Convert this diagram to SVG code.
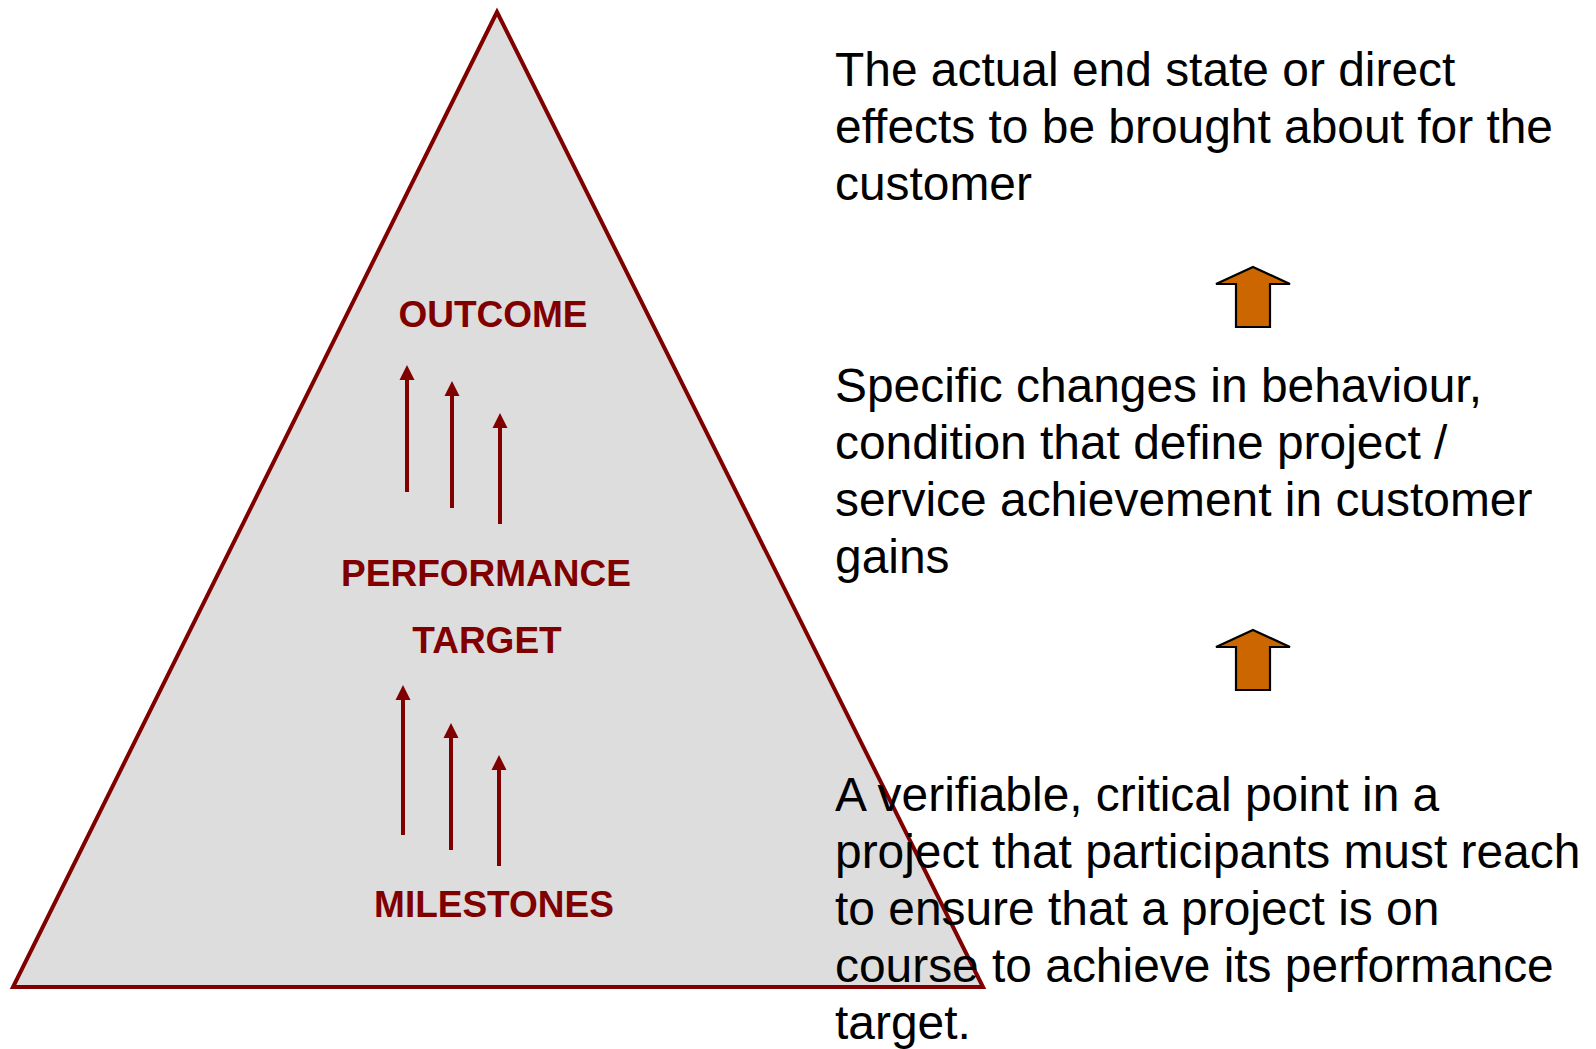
<svg xmlns="http://www.w3.org/2000/svg" width="1596" height="1049" viewBox="0 0 1596 1049">
  <style>
    .tri { fill: #DDDDDD; stroke: #800000; stroke-width: 4; stroke-linejoin: miter; }
    .lbl { font-family: "Liberation Sans", Arial, sans-serif; font-weight: bold; font-size: 37px; fill: #800000; text-anchor: middle; }
    .desc { font-family: "Liberation Sans", Arial, sans-serif; font-size: 47.9px; fill: #000000; }
    .up { stroke: #800000; stroke-width: 4; fill: none; marker-end: url(#head); }
    .block { fill: #CC6600; stroke: #000000; stroke-width: 2.2; stroke-linejoin: miter; }
  </style>
  <defs>
    <marker id="head" markerUnits="userSpaceOnUse" markerWidth="16" markerHeight="16" viewBox="0 0 16 16" refX="1" refY="8" orient="auto">
      <path d="M0,0.5 L15,8 L0,15.5 Z" fill="#800000"/>
    </marker>
  </defs>

  <rect width="1596" height="1049" fill="#FFFFFF"/>

  <!-- pyramid -->
  <g id="pyramid">
    <polygon class="tri" points="497,12 13,987 983,987"/>
  </g>

  <g id="outcome">
    <text class="lbl" x="493" y="327">OUTCOME</text>
  </g>
  <g id="performance-target">
    <text class="lbl" x="486" y="586">PERFORMANCE</text>
    <text class="lbl" x="487" y="653">TARGET</text>
  </g>
  <g id="milestones">
    <text class="lbl" x="494" y="917">MILESTONES</text>
  </g>

  <!-- upward connectors between the levels -->
  <g id="connectors">
    <line class="up" x1="407" y1="492" x2="407" y2="379"/>
    <line class="up" x1="452" y1="508" x2="452" y2="395"/>
    <line class="up" x1="500" y1="524" x2="500" y2="427"/>
    <line class="up" x1="403" y1="835" x2="403" y2="699"/>
    <line class="up" x1="451" y1="850" x2="451" y2="737"/>
    <line class="up" x1="499" y1="866" x2="499" y2="769"/>
    <polygon class="block" points="1253,267 1290,284 1270,284 1270,327 1236,327 1236,284 1216,284"/>
    <polygon class="block" points="1253,630 1290,647 1270,647 1270,690 1236,690 1236,647 1216,647"/>
  </g>

  <!-- descriptions -->
  <g id="desc-outcome">
    <text class="desc" x="835" y="86">The actual end state or direct</text>
    <text class="desc" x="835" y="143">effects to be brought about for the</text>
    <text class="desc" x="835" y="200">customer</text>
  </g>
  <g id="desc-performance">
    <text class="desc" x="835" y="402">Specific changes in behaviour,</text>
    <text class="desc" x="835" y="459">condition that define project /</text>
    <text class="desc" x="835" y="516">service achievement in customer</text>
    <text class="desc" x="835" y="573">gains</text>
  </g>
  <g id="desc-milestones">
    <text class="desc" x="835" y="811">A verifiable, critical point in a</text>
    <text class="desc" x="835" y="868">project that participants must reach</text>
    <text class="desc" x="835" y="925">to ensure that a project is on</text>
    <text class="desc" x="835" y="982">course to achieve its performance</text>
    <text class="desc" x="835" y="1039">target.</text>
  </g>
</svg>
